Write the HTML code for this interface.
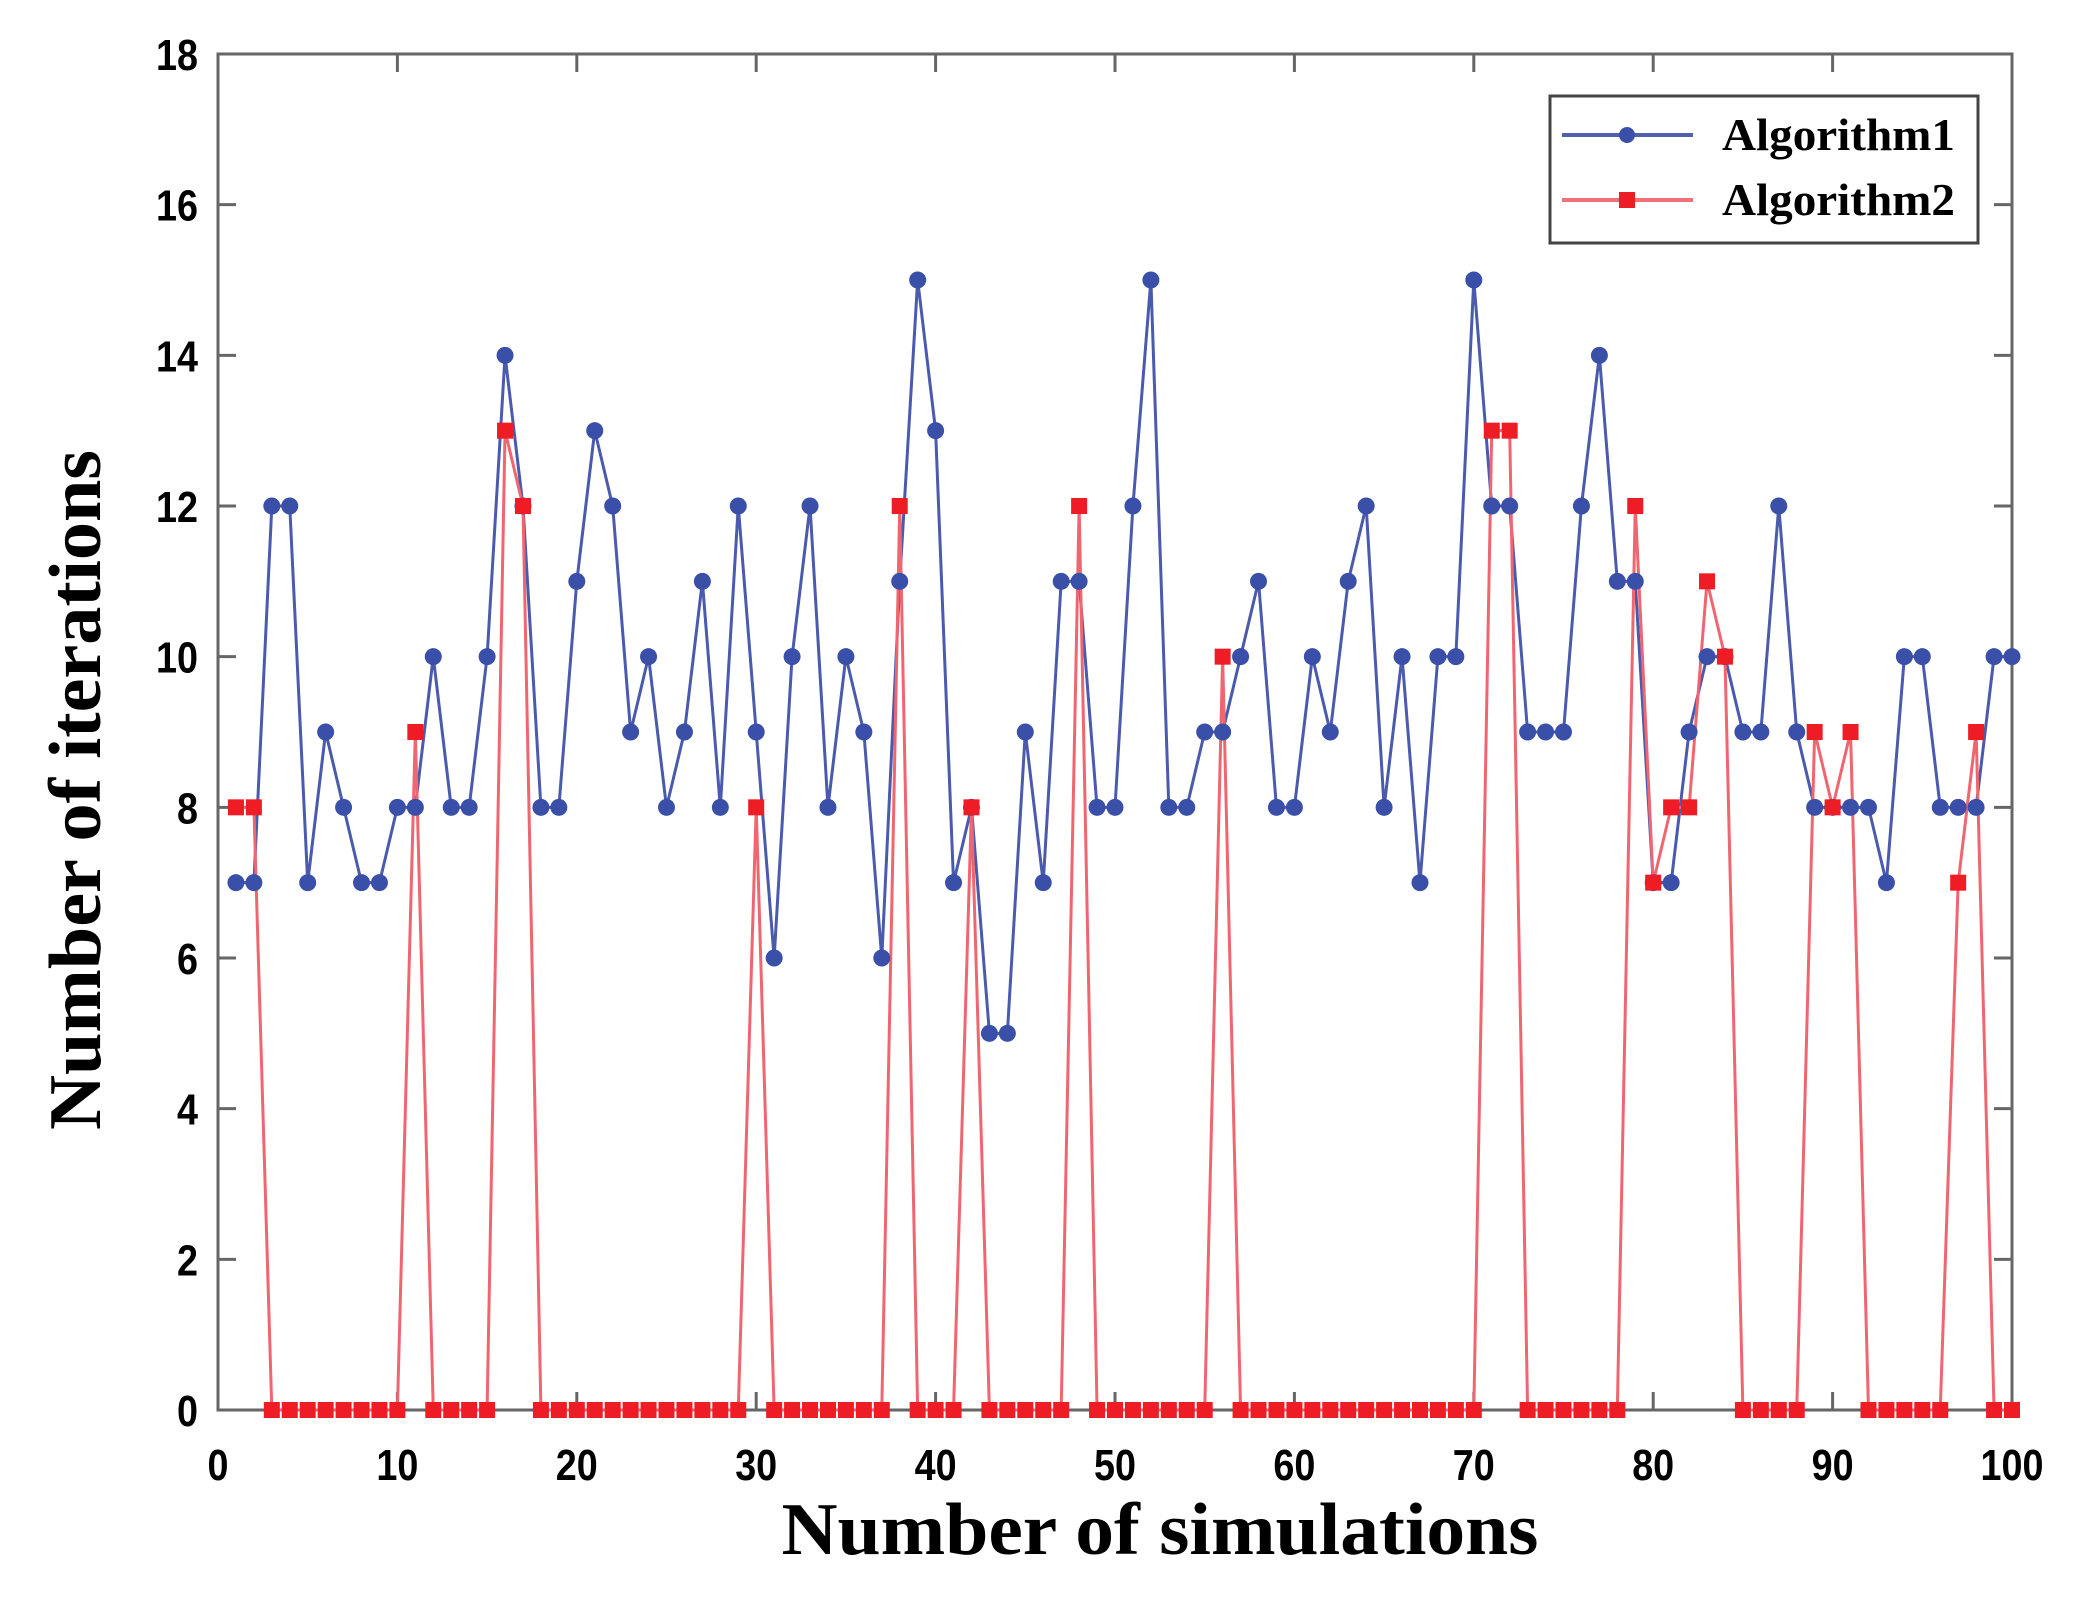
<!DOCTYPE html>
<html><head><meta charset="utf-8"><style>
html,body{margin:0;padding:0;background:#fff;}
svg{display:block;}
</style></head><body>
<svg id="chart" width="2095" height="1621" xmlns="http://www.w3.org/2000/svg">
<rect width="2095" height="1621" fill="#fff"/>
<g id="axes"></g>
<g id="series"></g>
<text x="1160" y="1554" text-anchor="middle" font-family="Liberation Serif, serif" font-weight="bold" font-size="74" textLength="757" lengthAdjust="spacingAndGlyphs">Number of simulations</text>
<text transform="translate(100,790) rotate(-90)" text-anchor="middle" font-family="Liberation Serif, serif" font-weight="bold" font-size="74" textLength="680" lengthAdjust="spacingAndGlyphs">Number of iterations</text>
<g>
<rect x="1550" y="96" width="428" height="147" fill="#fff" stroke="#444" stroke-width="3"/>
<line x1="1562" y1="135" x2="1693" y2="135" stroke="#5060b0" stroke-width="4"/>
<circle cx="1627" cy="135" r="8" fill="#3a4fa8"/>
<text x="1722" y="150" font-family="Liberation Serif, serif" font-weight="bold" font-size="46" textLength="233" lengthAdjust="spacingAndGlyphs">Algorithm1</text>
<line x1="1562" y1="200" x2="1693" y2="200" stroke="#f07078" stroke-width="4"/>
<rect x="1619" y="192" width="16" height="16" fill="#ee1c25"/>
<text x="1722" y="215" font-family="Liberation Serif, serif" font-weight="bold" font-size="46" textLength="233" lengthAdjust="spacingAndGlyphs">Algorithm2</text>
</g>
</svg>
<script>
const xTicks = [0,10,20,30,40,50,60,70,80,90,100];
const yTicks = [0,2,4,6,8,10,12,14,16,18];
const algorithm1 = [7,7,12,12,7,9,8,7,7,8,8,10,8,8,10,14,12,8,8,11,13,12,9,10,8,9,11,8,12,9,6,10,12,8,10,9,6,11,15,13,7,8,5,5,9,7,11,11,8,8,12,15,8,8,9,9,10,11,8,8,10,9,11,12,8,10,7,10,10,15,12,12,9,9,9,12,14,11,11,7,7,9,10,10,9,9,12,9,8,8,8,8,7,10,10,8,8,8,10,10];
const algorithm2 = [8,8,0,0,0,0,0,0,0,0,9,0,0,0,0,13,12,0,0,0,0,0,0,0,0,0,0,0,0,8,0,0,0,0,0,0,0,12,0,0,0,8,0,0,0,0,0,12,0,0,0,0,0,0,0,10,0,0,0,0,0,0,0,0,0,0,0,0,0,0,13,13,0,0,0,0,0,0,12,7,8,8,11,10,0,0,0,0,9,8,9,0,0,0,0,0,7,9,0,0];

const L=218,R=2012,T=54,B=1410;
const xs=v=>L+(R-L)*v/100;
const ys=v=>B-(B-T)*v/18;
const NS="http://www.w3.org/2000/svg";
function mk(tag,attrs,parent){const e=document.createElementNS(NS,tag);for(const k in attrs)e.setAttribute(k,attrs[k]);parent.appendChild(e);return e;}
const axes=document.getElementById('axes');
const frame=mk('rect',{x:L,y:T,width:R-L,height:B-T,fill:'none',stroke:'#666',"stroke-width":3},axes);


xTicks.forEach(t=>{
  const x=xs(t);
  mk('line',{x1:x,y1:B,x2:x,y2:B-18,stroke:'#666','stroke-width':3},axes);
  mk('line',{x1:x,y1:T,x2:x,y2:T+18,stroke:'#666','stroke-width':3},axes);
  const tx=mk('text',{x:x,y:B+70,'text-anchor':'middle','font-family':'Liberation Sans, sans-serif','font-weight':'bold','font-size':44,textLength:String(t).length*21,lengthAdjust:'spacingAndGlyphs'},axes);
  tx.textContent=t;
  
  
});
yTicks.forEach(t=>{
  const y=ys(t);
  mk('line',{x1:L,y1:y,x2:L+18,y2:y,stroke:'#666','stroke-width':3},axes);
  mk('line',{x1:R,y1:y,x2:R-18,y2:y,stroke:'#666','stroke-width':3},axes);
  const tx=mk('text',{x:198,y:y+16,'text-anchor':'end','font-family':'Liberation Sans, sans-serif','font-weight':'bold','font-size':44,textLength:String(t).length*21,lengthAdjust:'spacingAndGlyphs'},axes);
  tx.textContent=t;
  
  
});
const series=document.getElementById('series');
function pts(arr){return arr.map((v,i)=>xs(i+1)+','+ys(v)).join(' ');}
const l1=mk('polyline',{points:pts(algorithm1),fill:'none',stroke:'#4a5aad','stroke-width':3},series);


const l2=mk('polyline',{points:pts(algorithm2),fill:'none',stroke:'#f06670','stroke-width':3},series);


algorithm1.forEach((v,i)=>{
  const c=mk('circle',{cx:xs(i+1),cy:ys(v),r:8.5,fill:'#3a4fa8'},series);
  
  
});
algorithm2.forEach((v,i)=>{
  const s=mk('rect',{x:xs(i+1)-8,y:ys(v)-8,width:16,height:16,fill:'#ee1c25'},series);
  
  
});
</script>
</body></html>
